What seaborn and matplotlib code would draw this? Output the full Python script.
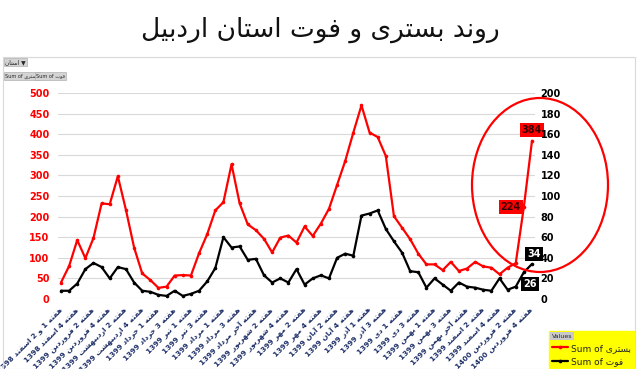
import matplotlib
matplotlib.use('Agg')
import matplotlib.pyplot as plt
import seaborn as sns
import pandas as pd
from matplotlib.patches import Ellipse, Rectangle

sns.set_theme(style='white')
plt.rcParams['font.family'] = ['DejaVu Sans']

# ---------------- data ----------------
title_text = 'روند بستری و فوت استان اردبیل'
series_names = ['بستری', 'فوت']
week_labels = [
    'هفته 1 و 2 اسفند 1398', 'هفته 4 اسفند 1398', 'هفته 2 فروردین 1399',
    'هفته 4 فروردین 1399', 'هفته 2 اردیبهشت 1399', 'هفته 4 اردیبهشت 1399',
    'هفته 1 خرداد 1399', 'هفته 3 خرداد 1399', 'هفته 1 تیر 1399',
    'هفته 3 تیر 1399', 'هفته 1 مرداد 1399', 'هفته 3 مرداد 1399',
    'هفته آخر مرداد 1399', 'هفته 2 شهریور 1399', 'هفته 4 شهریور 1399',
    'هفته 2 مهر 1399', 'هفته 4 مهر 1399', 'هفته 2 آبان 1399',
    'هفته 4 آبان 1399', 'هفته 1 آذر 1399', 'هفته 3 آذر 1399',
    'هفته 1 دی 1399', 'هفته 3 دی 1399', 'هفته 1 بهمن 1399',
    'هفته 3 بهمن 1399', 'هفته آخر بهمن 1399', 'هفته 2 اسفند 1399',
    'هفته 4 اسفند 1399', 'هفته 2 فروردین 1400', 'هفته 4 فروردین 1400',
]
hosp = [40, 80, 143, 99, 148, 232, 230, 298, 216, 125, 62, 46, 27, 30, 57,
        58, 57, 111, 157, 215, 235, 327, 232, 181, 167, 146, 113, 149, 154,
        137, 176, 153, 183, 219, 277, 335, 404, 470, 404, 393, 347, 201, 173,
        145, 110, 84, 84, 70, 90, 68, 74, 90, 79, 76, 60, 76, 87, 224, 384]
deaths = [8, 8, 15, 29, 35, 31, 20, 31, 29, 16, 8, 7, 4, 3, 8,
          3, 5, 8, 17, 30, 60, 50, 51, 38, 39, 23, 16, 20, 16,
          29, 14, 20, 23, 20, 40, 44, 42, 81, 83, 86, 68, 56, 45,
          27, 26, 11, 20, 14, 8, 16, 12, 11, 9, 8, 20, 9, 12, 26, 34]

# ------------- Persian shaping (visual order) -------------
def _f(a, b, c=None, d=None):
    return (chr(a), chr(b), chr(c) if c else None, chr(d) if d else None)

FORMS = {
    'ا': _f(0xFE8D, 0xFE8E), 'آ': _f(0xFE81, 0xFE82),
    'ب': _f(0xFE8F, 0xFE90, 0xFE91, 0xFE92), 'پ': _f(0xFB56, 0xFB57, 0xFB58, 0xFB59),
    'ت': _f(0xFE95, 0xFE96, 0xFE97, 0xFE98), 'ث': _f(0xFE99, 0xFE9A, 0xFE9B, 0xFE9C),
    'ج': _f(0xFE9D, 0xFE9E, 0xFE9F, 0xFEA0), 'چ': _f(0xFB7A, 0xFB7B, 0xFB7C, 0xFB7D),
    'ح': _f(0xFEA1, 0xFEA2, 0xFEA3, 0xFEA4), 'خ': _f(0xFEA5, 0xFEA6, 0xFEA7, 0xFEA8),
    'د': _f(0xFEA9, 0xFEAA), 'ذ': _f(0xFEAB, 0xFEAC), 'ر': _f(0xFEAD, 0xFEAE),
    'ز': _f(0xFEAF, 0xFEB0), 'ژ': _f(0xFB8A, 0xFB8B),
    'س': _f(0xFEB1, 0xFEB2, 0xFEB3, 0xFEB4), 'ش': _f(0xFEB5, 0xFEB6, 0xFEB7, 0xFEB8),
    'ص': _f(0xFEB9, 0xFEBA, 0xFEBB, 0xFEBC), 'ض': _f(0xFEBD, 0xFEBE, 0xFEBF, 0xFEC0),
    'ط': _f(0xFEC1, 0xFEC2, 0xFEC3, 0xFEC4), 'ظ': _f(0xFEC5, 0xFEC6, 0xFEC7, 0xFEC8),
    'ع': _f(0xFEC9, 0xFECA, 0xFECB, 0xFECC), 'غ': _f(0xFECD, 0xFECE, 0xFECF, 0xFED0),
    'ف': _f(0xFED1, 0xFED2, 0xFED3, 0xFED4), 'ق': _f(0xFED5, 0xFED6, 0xFED7, 0xFED8),
    'ک': _f(0xFB8E, 0xFB8F, 0xFB90, 0xFB91), 'گ': _f(0xFB92, 0xFB93, 0xFB94, 0xFB95),
    'ل': _f(0xFEDD, 0xFEDE, 0xFEDF, 0xFEE0), 'م': _f(0xFEE1, 0xFEE2, 0xFEE3, 0xFEE4),
    'ن': _f(0xFEE5, 0xFEE6, 0xFEE7, 0xFEE8), 'ه': _f(0xFEE9, 0xFEEA, 0xFEEB, 0xFEEC),
    'و': _f(0xFEED, 0xFEEE), 'ی': _f(0xFBFC, 0xFBFD, 0xFBFE, 0xFBFF),
}


def shape_word(w):
    out = []
    for i, c in enumerate(w):
        if c not in FORMS:
            out.append(c)
            continue
        prev = w[i - 1] if i > 0 else None
        nxt = w[i + 1] if i + 1 < len(w) else None
        jp = prev in FORMS and FORMS[prev][2] is not None
        jn = nxt in FORMS and FORMS[c][2] is not None
        iso, fin, ini, med = FORMS[c]
        out.append(med if (jp and jn) else fin if jp else ini if jn else iso)
    return ''.join(reversed(out))


def fa(text):
    toks = text.split(' ')
    vis = [shape_word(t) if any(ch in FORMS for ch in t) else t for t in toks]
    return ' '.join(reversed(vis))

# ---------------- figure ----------------
W, H = 640, 369
fig = plt.figure(figsize=(6.4, 3.69), dpi=100)
fig.patch.set_facecolor('white')

def fx(px):
    return px / W

def fy(py):
    return 1 - py / H

# chart frame
fig.add_artist(Rectangle((fx(3), 0), fx(632), fy(57), transform=fig.transFigure,
                         fill=False, edgecolor='#d9d9d9', lw=0.8))

ax = fig.add_axes([fx(58), fy(299), fx(477), (299 - 93) / H])
ax2 = ax.twinx()

df = pd.DataFrame({'idx': range(len(hosp)), 'hosp': hosp, 'deaths': deaths})
sns.lineplot(data=df, x='idx', y='hosp', ax=ax, color='#ff0000', lw=1.6,
             marker='o', markersize=2.6, markeredgewidth=0)
sns.lineplot(data=df, x='idx', y='deaths', ax=ax2, color='black', lw=1.6,
             marker='o', markersize=2.6, markeredgewidth=0)

ax.set_xlim(-0.37, len(hosp) - 1 + 0.37)
ax.set_ylim(0, 500)
ax2.set_ylim(0, 200)
ax.set_yticks(range(0, 501, 50))
ax2.set_yticks(range(0, 201, 20))
ax.grid(axis='y', color='#d9d9d9', lw=0.8)
ax.grid(axis='x', visible=False)
ax2.grid(False)
for a in (ax, ax2):
    for s in a.spines.values():
        s.set_visible(False)
    a.set_xlabel('')
    a.set_ylabel('')

ax.set_xticks(range(0, len(hosp), 2))
ax.set_xticklabels([fa(l) for l in week_labels], rotation=45, ha='right',
                   va='center', rotation_mode='anchor', fontsize=5.3,
                   fontweight='bold', color='#1f3068')
ax.tick_params(axis='x', length=0, pad=7)
ax.tick_params(axis='y', length=0, labelsize=7, labelcolor='#ff0000', pad=6)
ax2.tick_params(axis='y', length=0, labelsize=7, labelcolor='black', pad=4)
for t in ax.get_yticklabels() + ax2.get_yticklabels():
    t.set_fontweight('bold')

# data labels on last points
n = len(hosp)
ax.annotate(str(hosp[-1]), (n - 1, hosp[-1]), xytext=(0, 11), textcoords='offset pixels',
            ha='center', va='center', fontsize=7, fontweight='bold', color='#3a0000',
            bbox=dict(boxstyle='square,pad=0.2', facecolor='#ff0000', edgecolor='none'))
ax.annotate(str(hosp[-2]), (n - 2, hosp[-2]), xytext=(-13, 0), textcoords='offset pixels',
            ha='center', va='center', fontsize=7, fontweight='bold', color='#3a0000',
            bbox=dict(boxstyle='square,pad=0.2', facecolor='#ff0000', edgecolor='none'))
ax2.annotate(str(deaths[-1]), (n - 1, deaths[-1]), xytext=(2, 10), textcoords='offset pixels',
             ha='center', va='center', fontsize=7, fontweight='bold', color='white',
             bbox=dict(boxstyle='square,pad=0.2', facecolor='black', edgecolor='none'))
ax2.annotate(str(deaths[-2]), (n - 2, deaths[-2]), xytext=(6, -12), textcoords='offset pixels',
             ha='center', va='center', fontsize=7, fontweight='bold', color='white',
             bbox=dict(boxstyle='square,pad=0.2', facecolor='black', edgecolor='none'))

# red ellipse highlight
fig.add_artist(Ellipse((fx(540), fy(185)), fx(136), 174 / H, transform=fig.transFigure,
                       fill=False, edgecolor='#ff0000', lw=1.6))

# title
fig.text(0.5, fy(30), fa(title_text), ha='center', va='center', fontsize=19,
         color='#111111')

# pivot field buttons
btn = dict(boxstyle='square,pad=0.25', facecolor='#d4d4d4', edgecolor='#b0b0b0', lw=0.5)
fig.text(fx(5), fy(62), fa('استان') + ' ▼', fontsize=4.2, ha='left', va='center', bbox=btn)
fig.text(fx(5), fy(76), 'Sum of ' + fa(series_names[0]), fontsize=3.6, ha='left',
         va='center', bbox=btn)
fig.text(fx(36), fy(76), 'Sum of ' + fa(series_names[1]), fontsize=3.6, ha='left',
         va='center', bbox=btn)

# legend
l_red = ax.get_lines()[0]
l_black = ax2.get_lines()[0]
leg = fig.legend(handles=[l_red, l_black],
                 labels=['Sum of ' + fa(series_names[0]), 'Sum of ' + fa(series_names[1])],
                 loc='upper left', bbox_to_anchor=(fx(544), fy(326)),
                 bbox_transform=fig.transFigure, frameon=True, facecolor='#ffff00',
                 edgecolor='#ffff00', framealpha=1, fancybox=False, fontsize=6.5,
                 title='Values', title_fontsize=4.5, handlelength=1.8, borderpad=0.35,
                 labelspacing=0.55, handletextpad=0.3, alignment='left')
leg.get_title().set_bbox(dict(facecolor='#c8c8c8', edgecolor='none', pad=1.2))

fig.savefig('out.png', dpi=100, facecolor='white')
